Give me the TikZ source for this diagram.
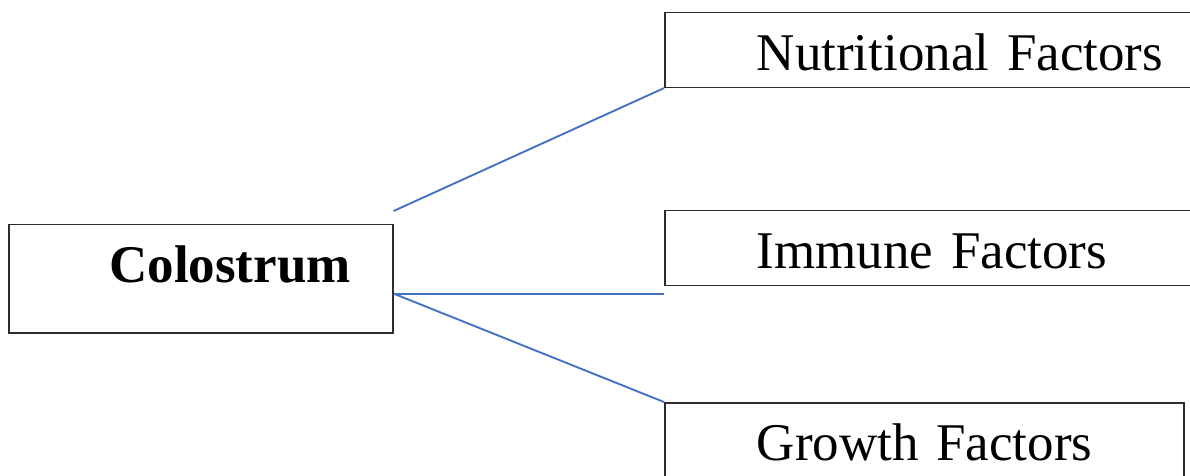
\documentclass[tikz,border=0pt]{standalone}
\usepackage{fontspec}
\setmainfont{Liberation Serif}
\usetikzlibrary{positioning}

\definecolor{linkblue}{RGB}{68,114,196}
\definecolor{boxgray}{RGB}{45,45,45}

\tikzset{
	mainbox/.style={draw=boxgray, line width=1.6pt, anchor=north west,
		align=right, inner xsep=42pt, inner ysep=0pt, text width=300pt,
		text height=58.5pt, text depth=50pt, font=\fontsize{53}{60}\selectfont\bfseries},
	factorbox/.style={draw=boxgray, line width=1.6pt, anchor=north west,
		align=left, inner xsep=92pt, inner ysep=0pt, text width=#1,
		text height=58pt, text depth=17pt, font=\fontsize{53}{60}\selectfont},
	link/.style={linkblue, line width=1.9pt}
}

\begin{document}
\begin{tikzpicture}[x=1pt, y=-1pt]
		\useasboundingbox (0,0) rectangle (1190,475);
		% main box and the three factors
		\node [mainbox] (colostrum) at (8,223.5) {Colostrum};
		\node [factorbox=420pt] (nutri) at (664,11.5) {Nutritional Factors};
		\node [factorbox=420pt] (immune) at (664,209.5) {Immune Factors};
		\node [factorbox=335pt] (growth) at (664,402) {\mbox{Growth Factors}};

		\coordinate (upper) at ([yshift=12.5pt]colostrum.north east);
		\coordinate (lower) at ([yshift=40pt]colostrum.south east);

		\draw [link] (upper) -- (nutri.south west);
		\draw [link] (lower) -- (lower -| immune.west);
		\draw [link] (lower) -- (growth.north west);
	\end{tikzpicture}
\end{document}
